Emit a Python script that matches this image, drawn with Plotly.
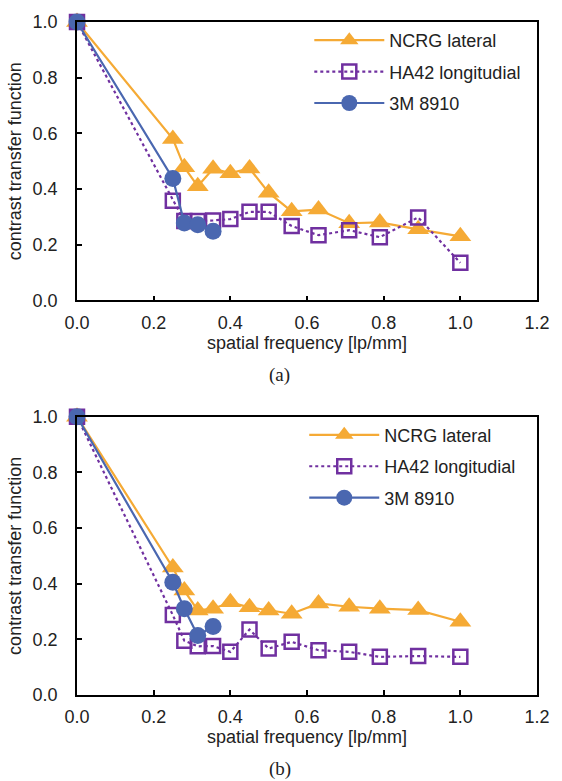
import plotly.graph_objects as go

freq = [0, 0.25, 0.28, 0.315, 0.355, 0.40, 0.45, 0.50, 0.56, 0.63, 0.71, 0.79, 0.89, 1.0]
freq_3m = [0, 0.25, 0.28, 0.315, 0.355]

ncrg_a = [1.0, 0.58, 0.478, 0.41, 0.473, 0.457, 0.474, 0.387, 0.32, 0.326, 0.277, 0.28, 0.255, 0.23]
ha42_a = [1.0, 0.358, 0.285, 0.285, 0.287, 0.292, 0.318, 0.318, 0.267, 0.234, 0.252, 0.227, 0.298, 0.135]
m3_a = [1.0, 0.438, 0.278, 0.272, 0.248]

ncrg_b = [1.0, 0.458, 0.375, 0.304, 0.31, 0.333, 0.315, 0.304, 0.292, 0.329, 0.317, 0.31, 0.305, 0.263]
ha42_b = [1.0, 0.287, 0.195, 0.175, 0.176, 0.155, 0.235, 0.167, 0.191, 0.161, 0.155, 0.137, 0.14, 0.137]
m3_b = [1.0, 0.405, 0.31, 0.214, 0.246]

x_ticks = [0, 0.2, 0.4, 0.6, 0.8, 1.0, 1.2]
y_ticks = [0, 0.2, 0.4, 0.6, 0.8, 1.0]

ORANGE = "#F5AA35"
PURPLE = "#7030A0"
BLUE = "#4A67B0"
FONT = "Liberation Sans, Arial, sans-serif"
SERIF = "Liberation Serif, Times New Roman, serif"

fig = go.Figure()

def add_set(ncrg, ha42, m3, xa, ya, legend):
    fig.add_trace(go.Scatter(x=freq, y=ncrg, name="NCRG lateral", mode="lines+markers",
                             line=dict(color=ORANGE, width=2.2),
                             marker=dict(symbol="triangle-up", size=19, color=ORANGE),
                             xaxis=xa, yaxis=ya, legend=legend, legendgroup=legend + "a",
                             cliponaxis=False))
    fig.add_trace(go.Scatter(x=freq, y=ha42, name="HA42 longitudial", mode="lines+markers",
                             line=dict(color=PURPLE, width=2.2, dash="dot"),
                             marker=dict(symbol="square-open", size=14, color=PURPLE,
                                         line=dict(width=2.5, color=PURPLE)),
                             xaxis=xa, yaxis=ya, legend=legend, legendgroup=legend + "b",
                             cliponaxis=False))
    fig.add_trace(go.Scatter(x=freq_3m, y=m3, name="3M 8910", mode="lines+markers",
                             line=dict(color=BLUE, width=2.2),
                             marker=dict(symbol="circle", size=17, color=BLUE),
                             xaxis=xa, yaxis=ya, legend=legend, legendgroup=legend + "c",
                             cliponaxis=False))

add_set(ncrg_a, ha42_a, m3_a, "x", "y", "legend")
add_set(ncrg_b, ha42_b, m3_b, "x2", "y2", "legend2")

axis_common = dict(showline=True, linecolor="black", linewidth=1.5, mirror=True,
                   ticks="inside", ticklen=5, tickcolor="black", tickwidth=1.5,
                   showgrid=False, zeroline=False,
                   tickfont=dict(family=FONT, size=18, color="#222"))

xcommon = dict(axis_common, range=[0, 1.2], tickvals=x_ticks, tickformat=".1f",
               ticklabelstandoff=5,
               title=dict(text="spatial frequency [lp/mm]", font=dict(family=FONT, size=18, color="#222"),
                          standoff=2))
ycommon = dict(axis_common, range=[0, 1.0], tickvals=y_ticks, tickformat=".1f",
               ticklabelstandoff=14,
               title=dict(text="contrast transfer function", font=dict(family=FONT, size=18, color="#222"),
                          standoff=6))

H = 677.0
fig.update_layout(
    width=562, height=781,
    margin=dict(l=77, r=13, t=18, b=86),
    paper_bgcolor="white", plot_bgcolor="white",
    font=dict(family=FONT, size=18, color="#222"),
    xaxis=dict(xcommon, domain=[0, 1], anchor="y"),
    yaxis=dict(ycommon, domain=[(695 - 298) / H, 1], anchor="x"),
    xaxis2=dict(xcommon, domain=[0, 1], anchor="y2"),
    yaxis2=dict(ycommon, domain=[0, (695 - 415) / H], anchor="x2"),
    legend=dict(x=0.505, xanchor="left", y=1.0, yanchor="top", bgcolor="rgba(0,0,0,0)",
                itemwidth=70, tracegroupgap=5, traceorder="grouped",
                font=dict(family=FONT, size=18, color="#222")),
    legend2=dict(x=0.494, xanchor="left", y=(695 - 415) / H, yanchor="top", bgcolor="rgba(0,0,0,0)",
                 itemwidth=70, tracegroupgap=5, traceorder="grouped",
                 font=dict(family=FONT, size=18, color="#222")),
    showlegend=True,
)

fig.add_annotation(text="(a)", xref="paper", yref="paper", x=(285 - 77) / 472.0,
                   y=(695 - 373) / H, xanchor="center", yanchor="middle", showarrow=False,
                   font=dict(family=SERIF, size=19, color="#222"))
fig.add_annotation(text="(b)", xref="paper", yref="paper", x=(285 - 77) / 472.0,
                   y=(695 - 769) / H, xanchor="center", yanchor="middle", showarrow=False,
                   font=dict(family=SERIF, size=19, color="#222"))

fig.write_html("out.html")
